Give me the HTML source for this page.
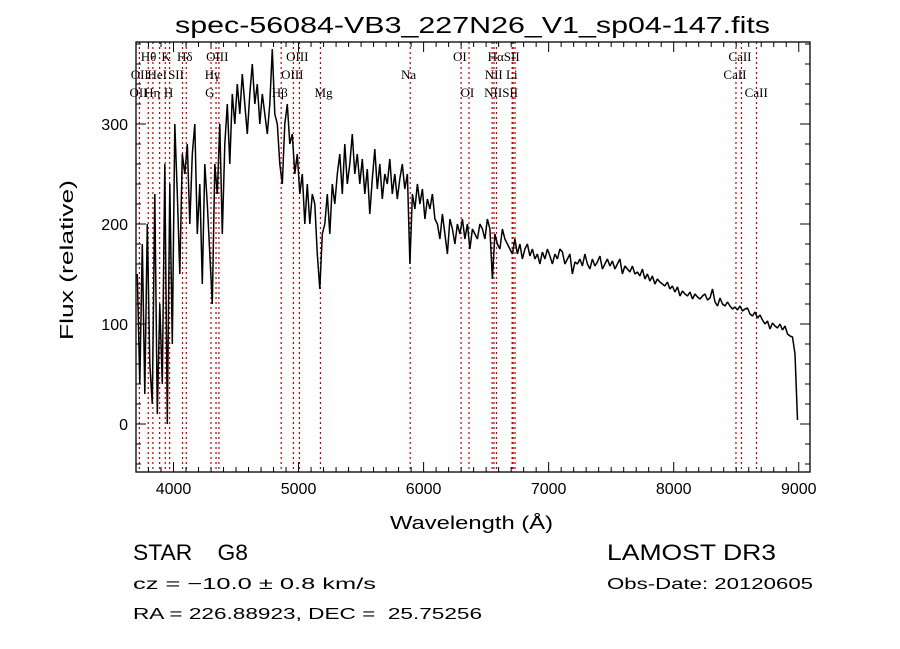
<!DOCTYPE html>
<html><head><meta charset="utf-8">
<style>
html,body{margin:0;padding:0;background:#fff;}
svg{display:block;}
text{font-family:"Liberation Sans",sans-serif;fill:#000;}
.ll{font-family:"Liberation Serif",serif;font-size:13px;}
</style></head>
<body>
<svg id="chart" width="900" height="649" viewBox="0 0 900 649" xmlns="http://www.w3.org/2000/svg">
<text x="175" y="33" font-size="23" textLength="595" lengthAdjust="spacingAndGlyphs">spec-56084-VB3_227N26_V1_sp04-147.fits</text>
<g id="lines"></g>
<g id="labels"></g>
<g id="ticks"></g>
<polyline id="spec" fill="none" stroke="#000" stroke-width="1.5" stroke-linejoin="bevel"/>
<rect x="136" y="42" width="674" height="430" fill="none" stroke="#000" stroke-width="1.3"/>
<text x="390" y="529" font-size="18" textLength="163" lengthAdjust="spacingAndGlyphs">Wavelength (Å)</text>
<text transform="translate(73,340) rotate(-90)" font-size="18" textLength="160" lengthAdjust="spacingAndGlyphs">Flux (relative)</text>
<text x="133" y="560" font-size="22" textLength="115" lengthAdjust="spacingAndGlyphs">STAR&#160;&#160;&#160;&#160;G8</text>
<text x="607" y="560" font-size="22" textLength="169" lengthAdjust="spacingAndGlyphs">LAMOST DR3</text>
<text x="133" y="589" font-size="16" textLength="243" lengthAdjust="spacingAndGlyphs">cz = −10.0 ± 0.8 km/s</text>
<text x="607" y="589" font-size="16" textLength="206" lengthAdjust="spacingAndGlyphs">Obs-Date: 20120605</text>
<text x="133" y="619" font-size="16" textLength="349" lengthAdjust="spacingAndGlyphs">RA = 226.88923, DEC =&#160;&#160;25.75256</text>
</svg>
<script>
const waveStart = 3710;
const waveStep = 20;
const flux = [
150,40,180,30,200,60,20,230,10,120,
40,260,0,240,80,300,230,150,270,250,
280,200,270,300,190,240,140,260,220,170,
120,260,230,300,190,280,320,260,330,300,
340,310,350,320,290,330,360,320,340,300,
330,310,290,320,375,310,300,260,240,300,
320,280,290,250,270,230,250,200,240,200,
230,220,170,135,190,200,230,190,240,220,
250,270,230,280,240,260,290,250,270,240,
265,230,255,210,245,275,235,260,225,250,
240,265,230,250,225,245,260,235,250,160,
230,215,240,220,235,205,225,215,230,205,
200,185,210,190,170,205,195,180,200,190,
205,185,200,175,195,190,185,200,195,185,
205,195,145,190,180,175,195,185,180,175,
170,185,170,180,165,175,180,168,175,165,
170,160,172,165,175,168,160,170,165,175,
172,160,165,170,150,162,160,165,158,170,
160,155,165,158,162,168,155,160,165,158,
163,155,160,165,150,158,155,152,158,150,
152,148,155,145,150,143,148,140,145,142,
140,138,142,135,138,132,137,128,133,130,
128,132,125,130,127,125,128,130,124,126,
135,122,118,126,120,118,122,118,115,117,
114,118,113,115,116,110,108,112,106,109,
104,100,103,95,101,98,96,100,94,98,
90,88,87,70,4
];
const lineWaves = [3727,3798,3835,3889,3934,3969,4072,4102,4300,4340,4363,4861,4959,5007,5175,5893,6300,6363,6548,6563,6583,6708,6716,6731,8498,8542,8662];
const labelText = ["Hθ","K","Hδ","OIII","OIII","OI","HαSII","CaII","OII","HeI","SII","Hγ","OIII","Na","NII Li","CaII","OII","Hη","H","G","Hβ","Mg","OI","NIISII","CaII"];
const labelWave = [3800,3940,4090,4350,4990,6290,6640,8530,3730,3870,4020,4310,4950,5880,6620,8490,3720,3830,3960,4290,4850,5200,6350,6620,8660];
const labelRow = [0,0,0,0,0,0,0,0,1,1,1,1,1,1,1,1,2,2,2,2,2,2,2,2,2];
const xTicks = [4000,5000,6000,7000,8000,9000];
const yTicks = [0,100,200,300];

const X0=136,X1=810,Y0=42,Y1=472,XMIN=3700,XMAX=9090,YMIN=-48,YMAX=382;
function xs(w){return X0+(w-XMIN)*(X1-X0)/(XMAX-XMIN);}
function ys(f){return Y1-(f-YMIN)*(Y1-Y0)/(YMAX-YMIN);}
const NS="http://www.w3.org/2000/svg";
function mk(tag,attrs,parent){const e=document.createElementNS(NS,tag);for(const k in attrs)e.setAttribute(k,attrs[k]);parent.appendChild(e);return e;}

const pts=flux.map((f,i)=>xs(waveStart+i*waveStep).toFixed(1)+","+ys(f).toFixed(1)).join(" ");
document.getElementById('spec').setAttribute('points',pts);

const lg=document.getElementById('lines');
lineWaves.forEach(w=>{
  const l=mk('line',{x1:xs(w),x2:xs(w),y1:Y0,y2:Y1,stroke:'#c00000','stroke-width':1.2,'stroke-dasharray':'2,3'},lg);
  
  
});
const lb=document.getElementById('labels');
labelText.forEach((t,i)=>{
  const e=mk('text',{x:xs(labelWave[i]),y:61+labelRow[i]*18,'text-anchor':'middle',class:'ll'},lb);
  e.textContent=t;
  
  
});
const tg=document.getElementById('ticks');
for(let w=3700;w<=9000;w+=100){
  const len=(w%1000===0)?10:5;
  mk('line',{x1:xs(w),x2:xs(w),y1:Y1,y2:Y1-len,stroke:'#000'},tg);
  mk('line',{x1:xs(w),x2:xs(w),y1:Y0,y2:Y0+len,stroke:'#000'},tg);
}
for(let f=-40;f<=380;f+=20){
  const len=(f%100===0)?10:5;
  mk('line',{x1:X0,x2:X0+len,y1:ys(f),y2:ys(f),stroke:'#000'},tg);
  mk('line',{x1:X1,x2:X1-len,y1:ys(f),y2:ys(f),stroke:'#000'},tg);
}
xTicks.forEach(w=>{
  const t=mk('text',{x:xs(w),y:Y1+22,'text-anchor':'middle','font-size':16},tg);
  t.textContent=w;
  
  
});
yTicks.forEach(f=>{
  const t=mk('text',{x:X0-8,y:ys(f)+6,'text-anchor':'end','font-size':16},tg);
  t.textContent=f;
  
  
});
</script>
</body></html>
